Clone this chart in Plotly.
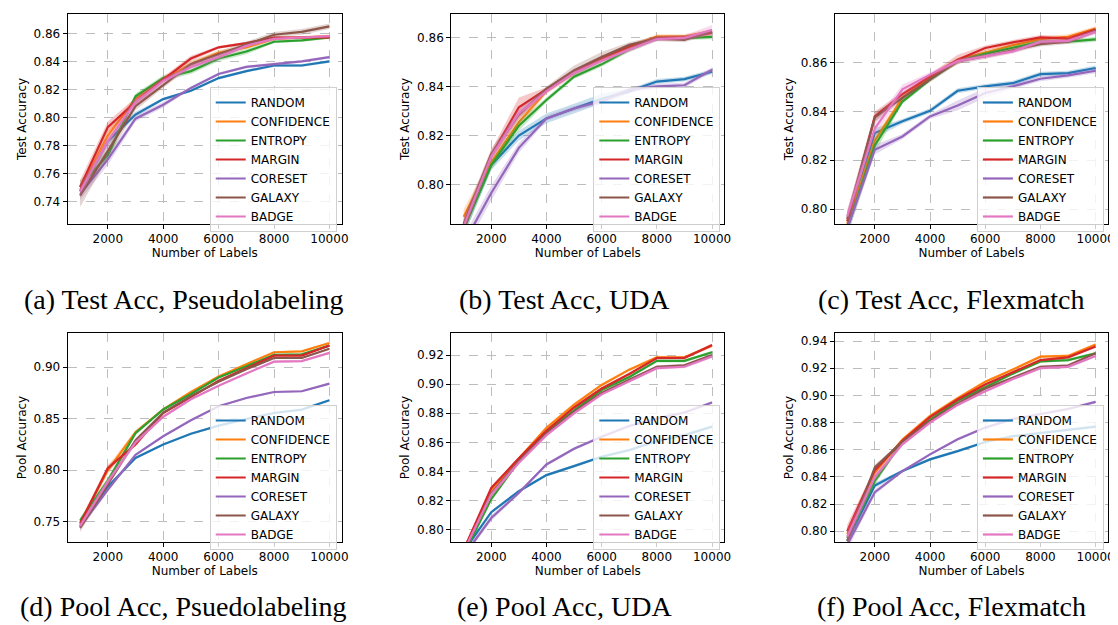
import plotly.graph_objects as go
from plotly.subplots import make_subplots

labels = [1000, 2000, 3000, 4000, 5000, 6000, 7000, 8000, 9000, 10000]
methods = ["RANDOM", "CONFIDENCE", "ENTROPY", "MARGIN", "CORESET", "GALAXY", "BADGE"]
colors = ["#1f77b4", "#ff7f0e", "#2ca02c", "#d62728", "#9467bd", "#8c564b", "#e377c2"]

captions = ["(a) Test Acc, Pseudolabeling", "(b) Test Acc, UDA", "(c) Test Acc, Flexmatch",
            "(d) Pool Acc, Psuedolabeling", "(e) Pool Acc, UDA", "(f) Pool Acc, Flexmatch"]
y_titles = ["Test Accuracy", "Test Accuracy", "Test Accuracy",
            "Pool Accuracy", "Pool Accuracy", "Pool Accuracy"]

# (a) Test Acc, Pseudolabeling
test_pl = {
    "RANDOM":     [0.747, 0.783, 0.802, 0.813, 0.819, 0.828, 0.833, 0.837, 0.837, 0.840],
    "CONFIDENCE": [0.748, 0.787, 0.813, 0.827, 0.838, 0.846, 0.850, 0.856, 0.857, 0.858],
    "ENTROPY":    [0.751, 0.773, 0.815, 0.828, 0.833, 0.842, 0.847, 0.854, 0.855, 0.857],
    "MARGIN":     [0.750, 0.793, 0.811, 0.827, 0.842, 0.850, 0.853, 0.857, 0.857, 0.857],
    "CORESET":    [0.745, 0.770, 0.799, 0.809, 0.821, 0.831, 0.836, 0.838, 0.840, 0.843],
    "GALAXY":     [0.744, 0.776, 0.808, 0.823, 0.838, 0.845, 0.852, 0.859, 0.861, 0.865],
    "BADGE":      [0.747, 0.783, 0.811, 0.826, 0.836, 0.843, 0.851, 0.856, 0.857, 0.858],
}
test_pl_sd = {
    "RANDOM":     [0.004, 0.003, 0.002, 0.001, 0.001, 0.001, 0.001, 0.001, 0.001, 0.001],
    "CONFIDENCE": [0.004, 0.004, 0.002, 0.002, 0.002, 0.002, 0.001, 0.001, 0.001, 0.001],
    "ENTROPY":    [0.004, 0.004, 0.002, 0.002, 0.002, 0.002, 0.002, 0.001, 0.001, 0.001],
    "MARGIN":     [0.005, 0.004, 0.003, 0.002, 0.002, 0.001, 0.001, 0.001, 0.001, 0.001],
    "CORESET":    [0.004, 0.004, 0.002, 0.002, 0.001, 0.001, 0.001, 0.001, 0.001, 0.001],
    "GALAXY":     [0.008, 0.005, 0.003, 0.002, 0.002, 0.002, 0.002, 0.002, 0.002, 0.002],
    "BADGE":      [0.004, 0.004, 0.003, 0.002, 0.002, 0.002, 0.001, 0.001, 0.001, 0.001],
}

# (b) Test Acc, UDA
test_uda = {
    "RANDOM":     [0.782, 0.808, 0.820, 0.827, 0.831, 0.835, 0.838, 0.842, 0.843, 0.846],
    "CONFIDENCE": [0.787, 0.809, 0.8255, 0.838, 0.8455, 0.851, 0.856, 0.8603, 0.8603, 0.8625],
    "ENTROPY":    [0.782, 0.808, 0.824, 0.8345, 0.844, 0.849, 0.855, 0.8595, 0.8597, 0.8602],
    "MARGIN":     [0.783, 0.812, 0.8315, 0.8387, 0.8462, 0.8516, 0.8563, 0.8597, 0.860, 0.8618],
    "CORESET":    [0.776, 0.7966, 0.815, 0.827, 0.831, 0.834, 0.8387, 0.840, 0.8405, 0.8468],
    "GALAXY":     [0.784, 0.8125, 0.8285, 0.839, 0.8465, 0.852, 0.857, 0.8595, 0.859, 0.8625],
    "BADGE":      [0.783, 0.8115, 0.829, 0.838, 0.8455, 0.8505, 0.855, 0.8593, 0.8598, 0.863],
}
test_uda_sd = {
    "RANDOM":     [0.003, 0.002, 0.002, 0.002, 0.002, 0.002, 0.001, 0.001, 0.001, 0.001],
    "CONFIDENCE": [0.003, 0.002, 0.002, 0.001, 0.001, 0.001, 0.001, 0.001, 0.001, 0.001],
    "ENTROPY":    [0.003, 0.002, 0.002, 0.001, 0.001, 0.001, 0.001, 0.001, 0.001, 0.001],
    "MARGIN":     [0.003, 0.002, 0.004, 0.001, 0.001, 0.001, 0.001, 0.001, 0.001, 0.001],
    "CORESET":    [0.003, 0.003, 0.002, 0.001, 0.001, 0.001, 0.001, 0.001, 0.001, 0.001],
    "GALAXY":     [0.003, 0.002, 0.002, 0.001, 0.002, 0.002, 0.001, 0.001, 0.001, 0.001],
    "BADGE":      [0.003, 0.002, 0.002, 0.001, 0.001, 0.001, 0.001, 0.001, 0.001, 0.002],
}

# (c) Test Acc, Flexmatch
test_flex = {
    "RANDOM":     [0.793, 0.8311, 0.8359, 0.8402, 0.8484, 0.8502, 0.8515, 0.8552, 0.8556, 0.8577],
    "CONFIDENCE": [0.794, 0.828, 0.8455, 0.854, 0.861, 0.864, 0.867, 0.8695, 0.8705, 0.8738],
    "ENTROPY":    [0.792, 0.826, 0.844, 0.853, 0.8605, 0.8635, 0.866, 0.8685, 0.8685, 0.8694],
    "MARGIN":     [0.795, 0.8379, 0.847, 0.8543, 0.8611, 0.8659, 0.8682, 0.8702, 0.8697, 0.8734],
    "CORESET":    [0.792, 0.8243, 0.8297, 0.8379, 0.8424, 0.8475, 0.8502, 0.8533, 0.8547, 0.8566],
    "GALAXY":     [0.796, 0.8375, 0.8455, 0.853, 0.8605, 0.8625, 0.865, 0.8675, 0.8685, 0.8728],
    "BADGE":      [0.797, 0.833, 0.849, 0.855, 0.8605, 0.8625, 0.8645, 0.8685, 0.8688, 0.8725],
}
test_flex_sd = {
    "RANDOM":     [0.003, 0.002, 0.001, 0.001, 0.001, 0.001, 0.001, 0.001, 0.001, 0.001],
    "CONFIDENCE": [0.003, 0.002, 0.001, 0.001, 0.001, 0.001, 0.001, 0.001, 0.001, 0.001],
    "ENTROPY":    [0.003, 0.003, 0.001, 0.001, 0.001, 0.001, 0.001, 0.001, 0.001, 0.001],
    "MARGIN":     [0.004, 0.002, 0.001, 0.001, 0.002, 0.001, 0.001, 0.001, 0.001, 0.001],
    "CORESET":    [0.003, 0.002, 0.001, 0.001, 0.002, 0.002, 0.001, 0.001, 0.001, 0.001],
    "GALAXY":     [0.003, 0.002, 0.001, 0.001, 0.001, 0.001, 0.001, 0.001, 0.001, 0.001],
    "BADGE":      [0.003, 0.003, 0.002, 0.001, 0.001, 0.001, 0.001, 0.001, 0.001, 0.001],
}

# (d) Pool Acc, Pseudolabeling
pool_pl = {
    "RANDOM":     [0.746, 0.784, 0.812, 0.825, 0.8355, 0.8433, 0.8498, 0.8556, 0.8589, 0.8679],
    "CONFIDENCE": [0.749, 0.800, 0.837, 0.859, 0.876, 0.891, 0.903, 0.9146, 0.9155, 0.9236],
    "ENTROPY":    [0.751, 0.790, 0.836, 0.859, 0.874, 0.890, 0.901, 0.912, 0.9125, 0.921],
    "MARGIN":     [0.748, 0.802, 0.825, 0.8556, 0.871, 0.887, 0.899, 0.9113, 0.9113, 0.9211],
    "CORESET":    [0.745, 0.781, 0.815, 0.833, 0.8485, 0.8621, 0.8702, 0.876, 0.8767, 0.8841],
    "GALAXY":     [0.744, 0.786, 0.829, 0.856, 0.872, 0.886, 0.898, 0.909, 0.909, 0.918],
    "BADGE":      [0.746, 0.789, 0.827, 0.852, 0.869, 0.882, 0.894, 0.9055, 0.906, 0.914],
}
pool_pl_sd = {
    "RANDOM":     [0.002, 0.002, 0.001, 0.001, 0.001, 0.001, 0.001, 0.001, 0.001, 0.001],
    "CONFIDENCE": [0.003, 0.004, 0.002, 0.001, 0.001, 0.001, 0.001, 0.001, 0.001, 0.001],
    "ENTROPY":    [0.003, 0.003, 0.002, 0.001, 0.001, 0.001, 0.001, 0.001, 0.001, 0.001],
    "MARGIN":     [0.003, 0.003, 0.002, 0.001, 0.001, 0.001, 0.001, 0.001, 0.001, 0.001],
    "CORESET":    [0.003, 0.002, 0.001, 0.001, 0.001, 0.001, 0.001, 0.001, 0.001, 0.001],
    "GALAXY":     [0.004, 0.003, 0.002, 0.001, 0.001, 0.001, 0.001, 0.001, 0.001, 0.001],
    "BADGE":      [0.003, 0.003, 0.002, 0.001, 0.001, 0.001, 0.001, 0.001, 0.001, 0.001],
}

# (e) Pool Acc, UDA
pool_uda = {
    "RANDOM":     [0.785, 0.812, 0.8264, 0.8375, 0.8437, 0.8501, 0.8547, 0.8609, 0.865, 0.8708],
    "CONFIDENCE": [0.785, 0.827, 0.849, 0.870, 0.886, 0.8995, 0.910, 0.9185, 0.9185, 0.9265],
    "ENTROPY":    [0.783, 0.821, 0.847, 0.867, 0.882, 0.896, 0.905, 0.916, 0.916, 0.922],
    "MARGIN":     [0.786, 0.8287, 0.849, 0.868, 0.884, 0.897, 0.907, 0.918, 0.918, 0.927],
    "CORESET":    [0.782, 0.808, 0.8253, 0.8448, 0.8556, 0.8639, 0.8713, 0.8763, 0.8805, 0.8874],
    "GALAXY":     [0.784, 0.825, 0.847, 0.866, 0.881, 0.894, 0.903, 0.912, 0.913, 0.920],
    "BADGE":      [0.785, 0.824, 0.846, 0.865, 0.880, 0.893, 0.902, 0.911, 0.912, 0.919],
}
pool_uda_sd = {
    "RANDOM":     [0.002, 0.001, 0.001, 0.001, 0.001, 0.001, 0.001, 0.001, 0.001, 0.001],
    "CONFIDENCE": [0.002, 0.001, 0.001, 0.001, 0.001, 0.001, 0.001, 0.001, 0.001, 0.001],
    "ENTROPY":    [0.002, 0.001, 0.001, 0.001, 0.001, 0.001, 0.001, 0.001, 0.001, 0.001],
    "MARGIN":     [0.002, 0.001, 0.001, 0.001, 0.001, 0.001, 0.001, 0.001, 0.001, 0.001],
    "CORESET":    [0.002, 0.002, 0.001, 0.001, 0.001, 0.001, 0.001, 0.001, 0.001, 0.001],
    "GALAXY":     [0.002, 0.001, 0.001, 0.001, 0.001, 0.001, 0.001, 0.001, 0.001, 0.001],
    "BADGE":      [0.002, 0.002, 0.001, 0.001, 0.001, 0.001, 0.001, 0.001, 0.001, 0.001],
}

# (f) Pool Acc, Flexmatch
pool_flex = {
    "RANDOM":     [0.793, 0.8337, 0.8443, 0.8529, 0.859, 0.8657, 0.870, 0.8725, 0.8745, 0.877],
    "CONFIDENCE": [0.798, 0.843, 0.8675, 0.885, 0.898, 0.910, 0.919, 0.9285, 0.929, 0.9375],
    "ENTROPY":    [0.795, 0.837, 0.866, 0.882, 0.896, 0.906, 0.916, 0.925, 0.926, 0.931],
    "MARGIN":     [0.800, 0.845, 0.8665, 0.884, 0.897, 0.908, 0.917, 0.926, 0.928, 0.936],
    "CORESET":    [0.790, 0.8288, 0.8443, 0.8566, 0.8677, 0.8763, 0.8825, 0.8865, 0.890, 0.8952],
    "GALAXY":     [0.793, 0.847, 0.866, 0.881, 0.894, 0.905, 0.913, 0.921, 0.922, 0.931],
    "BADGE":      [0.796, 0.840, 0.864, 0.880, 0.893, 0.903, 0.912, 0.920, 0.921, 0.929],
}
pool_flex_sd = {
    "RANDOM":     [0.003, 0.002, 0.001, 0.001, 0.001, 0.001, 0.001, 0.001, 0.001, 0.001],
    "CONFIDENCE": [0.004, 0.003, 0.001, 0.001, 0.001, 0.001, 0.001, 0.001, 0.001, 0.001],
    "ENTROPY":    [0.004, 0.003, 0.001, 0.001, 0.001, 0.001, 0.001, 0.001, 0.001, 0.001],
    "MARGIN":     [0.005, 0.002, 0.001, 0.001, 0.001, 0.001, 0.001, 0.001, 0.001, 0.001],
    "CORESET":    [0.004, 0.002, 0.001, 0.001, 0.001, 0.001, 0.001, 0.001, 0.001, 0.001],
    "GALAXY":     [0.004, 0.002, 0.001, 0.001, 0.001, 0.001, 0.001, 0.001, 0.001, 0.001],
    "BADGE":      [0.006, 0.003, 0.001, 0.001, 0.001, 0.001, 0.001, 0.001, 0.001, 0.001],
}

panels = [(test_pl, test_pl_sd), (test_uda, test_uda_sd), (test_flex, test_flex_sd),
          (pool_pl, pool_pl_sd), (pool_uda, pool_uda_sd), (pool_flex, pool_flex_sd)]
y_ranges = [[0.7238, 0.8738], [0.784, 0.8695], [0.7939, 0.8798],
            [0.7303, 0.9333], [0.7915, 0.9352], [0.7921, 0.9459]]
y_dticks = [0.02, 0.02, 0.02, 0.05, 0.02, 0.02]

W, H = 1118, 625
x_px = [(60, 336), (446, 721), (832, 1107)]
y_px = [(6, 216), (325, 534)]
caption_cx = [177, 560, 949]
caption_cy = [291, 598]
legend_left = [203, 589, 975]
legend_top = [79, 397]


def rgba(hexc, a):
    h = hexc.lstrip("#")
    return "rgba(%d,%d,%d,%.2f)" % (int(h[0:2], 16), int(h[2:4], 16), int(h[4:6], 16), a)


fig = make_subplots(rows=2, cols=3)
FONT = "DejaVu Sans"

for p, (means, sds) in enumerate(panels):
    r, c = p // 3 + 1, p % 3 + 1
    leg = "legend" if p == 0 else "legend%d" % (p + 1)
    for m, col in zip(methods, colors):
        mu = means[m]
        sd = sds[m]
        up = [a + b for a, b in zip(mu, sd)]
        lo = [a - b for a, b in zip(mu, sd)]
        fig.add_trace(go.Scatter(x=labels + labels[::-1], y=up + lo[::-1], fill="toself",
                                 fillcolor=rgba(col, 0.25), line=dict(width=0),
                                 mode="lines", showlegend=False, hoverinfo="skip"),
                      row=r, col=c)
        fig.add_trace(go.Scatter(x=labels, y=mu, mode="lines", name=m,
                                 line=dict(color=col, width=2.2), legend=leg),
                      row=r, col=c)

axis_common = dict(showline=True, mirror=True, linecolor="black", linewidth=1,
                   ticks="outside", ticklen=4, tickcolor="black", tickwidth=1,
                   showgrid=True, gridcolor="#bdbdbd", griddash="dash", gridwidth=0.8,
                   zeroline=False, tickfont=dict(family=FONT, size=12, color="black"))

layout_upd = {}
for p in range(6):
    row, col = p // 3, p % 3
    sfx = "" if p == 0 else str(p + 1)
    x0, x1 = x_px[col]
    yt, yb = y_px[row]
    layout_upd["xaxis" + sfx] = dict(
        domain=[x0 / W, x1 / W], range=[550, 10450], tick0=0, dtick=2000, tickformat="d",
        title=dict(text="Number of Labels", font=dict(family=FONT, size=12, color="black"), standoff=0),
        **axis_common)
    layout_upd["yaxis" + sfx] = dict(
        domain=[1 - yb / H, 1 - yt / H], range=y_ranges[p], tick0=0, dtick=y_dticks[p],
        tickformat=".2f",
        title=dict(text=y_titles[p], font=dict(family=FONT, size=12, color="black"), standoff=4),
        **axis_common)
    leg = "legend" if p == 0 else "legend%d" % (p + 1)
    layout_upd[leg] = dict(x=legend_left[col] / W, y=1 - legend_top[row] / H,
                           xanchor="left", yanchor="top", xref="paper", yref="paper",
                           bgcolor="rgba(255,255,255,0.8)", bordercolor="#d0d0d0", borderwidth=1,
                           font=dict(family=FONT, size=12, color="black"))

fig.update_layout(**layout_upd)

for p in range(6):
    row, col = p // 3, p % 3
    fig.add_annotation(text=captions[p], x=caption_cx[col] / W, y=1 - caption_cy[row] / H,
                       xref="paper", yref="paper", xanchor="center", yanchor="middle",
                       showarrow=False,
                       font=dict(family="Liberation Serif", size=28, color="black"))

fig.update_layout(width=W, height=H, margin=dict(l=0, r=0, t=0, b=0),
                  paper_bgcolor="white", plot_bgcolor="white")

fig.write_html("out.html")
